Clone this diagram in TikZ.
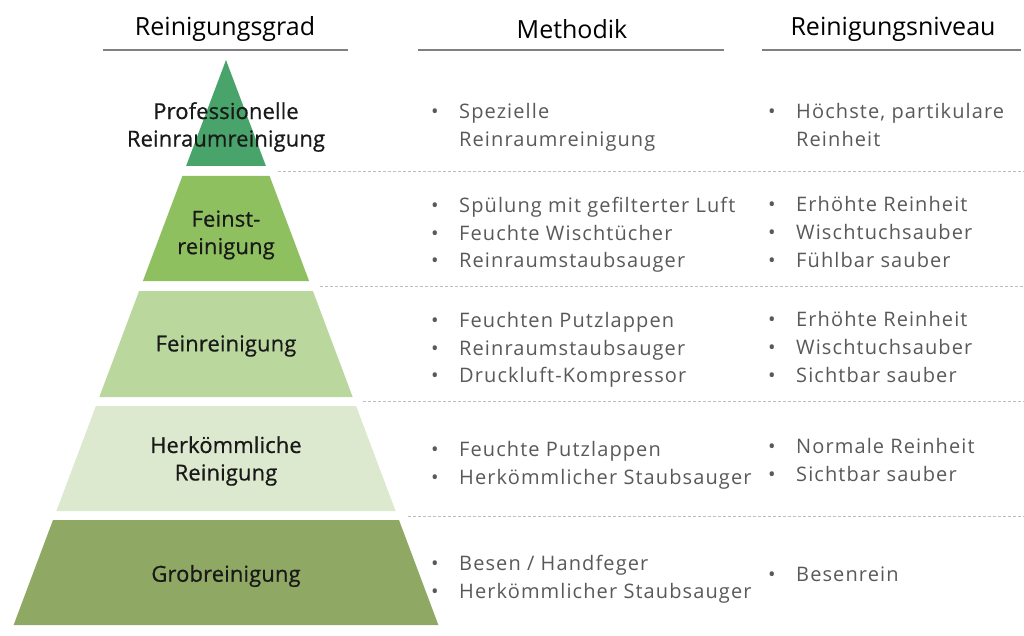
\documentclass[tikz,border=0pt]{standalone}
\usepackage{fontspec}
\setmainfont{Open Sans}
\newfontfamily\listenschrift[LetterSpace=5.5]{Open Sans}
\newfontfamily\stufenschrift[LetterSpace=0.5,FakeBold=0.6]{Open Sans}
\definecolor{gruenA}{RGB}{72,164,106}
\definecolor{gruenB}{RGB}{143,192,96}
\definecolor{gruenC}{RGB}{186,216,157}
\definecolor{gruenD}{RGB}{221,233,207}
\definecolor{gruenE}{RGB}{143,169,101}
\definecolor{textgrau}{RGB}{89,89,89}
\definecolor{liniengrau}{RGB}{128,128,128}
\definecolor{strichgrau}{RGB}{190,190,190}
\newcommand{\pkt}{\makebox[28pt][l]{\textbullet}}
\newcommand{\einr}{\hspace*{28pt}}
\begin{document}
\begin{tikzpicture}[x=1pt,y=-1pt,
    kopf/.style={font=\fontsize{25}{30}\selectfont, text=black, inner sep=0pt},
    stufe/.style={font=\stufenschrift\fontsize{22}{27.5}\selectfont, text=black!90, align=center, inner sep=0pt},
    liste/.style={anchor=west, font=\listenschrift\fontsize{20}{27.7}\selectfont, text=textgrau, align=left, inner sep=0pt},
    trenner/.style={draw=strichgrau, line width=1pt, dash pattern=on 3pt off 2pt},
    regel/.style={draw=liniengrau, line width=2pt}]
    \useasboundingbox (0,0) rectangle (1024,636);

    % Kopfzeile
    \node[kopf] (kopfGrad) at (225,29) {Reinigungsgrad};
    \node[kopf] (kopfMethodik) at (572,29) {Methodik};
    \node[kopf] (kopfNiveau) at (893,29) {Reinigungsniveau};
    \draw[regel] (103,50) -- (348,50);
    \draw[regel] (418,50) -- (724,50);
    \draw[regel] (762,50) -- (1021,50);

    % Pyramide
    \fill[gruenA] (226,60) -- (265.9,166) -- (186.1,166) -- cycle;
    \fill[gruenB] (182.4,176) -- (269.6,176) -- (309.1,281) -- (142.9,281) -- cycle;
    \fill[gruenC] (139.1,291) -- (312.9,291) -- (352.7,397) -- (99.3,397) -- cycle;
    \fill[gruenD] (95.9,406) -- (356.1,406) -- (395.6,511) -- (56.4,511) -- cycle;
    \fill[gruenE] (53.0,520) -- (399.0,520) -- (438.4,625) -- (13.6,625) -- cycle;

    \node[stufe] (stufe1) at (226,127) {Professionelle\\Reinraumreinigung};
    \node[stufe] (stufe2) at (226,235) {Feinst-\\reinigung};
    \node[stufe] (stufe3) at (226,346) {Feinreinigung};
    \node[stufe] (stufe4) at (226,461) {Herkömmliche\\Reinigung};
    \node[stufe] (stufe5) at (226,576) {Grobreinigung};

    % Trennlinien
    \draw[trenner] (278,172) -- (1024,172);
    \draw[trenner] (320,286) -- (1024,286);
    \draw[trenner] (363,401) -- (1024,401);
    \draw[trenner] (408,516) -- (1024,516);

    % Methodik
    \node[liste] (meth1) at (431,127) {\pkt Spezielle\\\einr Reinraumreinigung};
    \node[liste] (meth2) at (431,235) {\pkt Spülung mit gefilterter Luft\\\pkt Feuchte Wischtücher\\\pkt Reinraumstaubsauger};
    \node[liste] (meth3) at (431,350) {\pkt Feuchten Putzlappen\\\pkt Reinraumstaubsauger\\\pkt Druckluft-Kompressor};
    \node[liste] (meth4) at (431,465) {\pkt Feuchte Putzlappen\\\pkt Herkömmlicher Staubsauger};
    \node[liste] (meth5) at (431,579) {\pkt Besen / Handfeger\\\pkt Herkömmlicher Staubsauger};

    % Reinigungsniveau
    \node[liste] (niv1) at (768,125) {\pkt Höchste, partikulare\\\einr Reinheit};
    \node[liste] (niv2) at (768,232) {\pkt Erhöhte Reinheit\\\pkt Wischtuchsauber\\\pkt Fühlbar sauber};
    \node[liste] (niv3) at (768,347) {\pkt Erhöhte Reinheit\\\pkt Wischtuchsauber\\\pkt Sichtbar sauber};
    \node[liste] (niv4) at (768,460) {\pkt Normale Reinheit\\\pkt Sichtbar sauber};
    \node[liste] (niv5) at (768,574) {\pkt Besenrein};
\end{tikzpicture}
\end{document}
